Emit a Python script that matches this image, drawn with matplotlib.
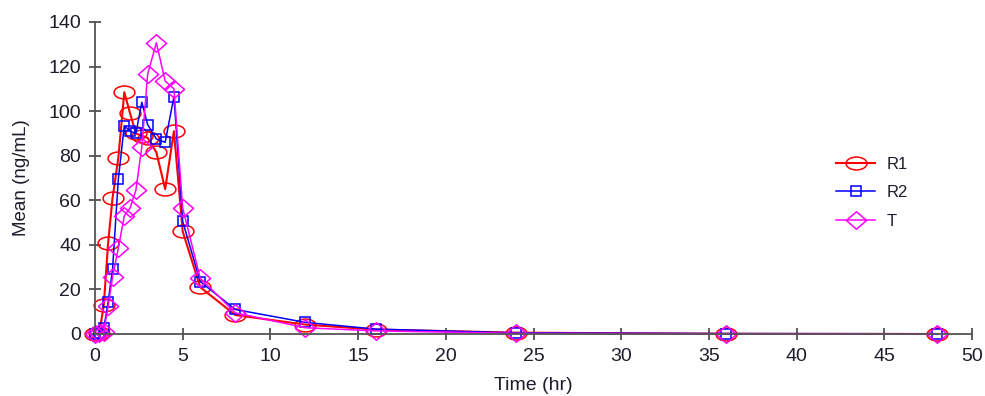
import numpy as np
import matplotlib
matplotlib.use("Agg")
import matplotlib.pyplot as plt
from matplotlib.path import Path
from matplotlib.transforms import Affine2D

plt.rcParams['font.family'] = ['Liberation Sans', 'DejaVu Sans']

# sampling times (hr) and mean concentrations (ng/mL)
time_hr = [0, 0.25, 0.5, 0.75, 1, 1.33, 1.67, 2, 2.33, 2.67, 3, 3.5, 4, 4.5,
           5, 6, 8, 12, 16, 24, 36, 48]
r1_mean = [0, 0.5, 13, 41, 61, 79, 108.5, 99, 90, 89, 88, 81.5, 65, 91,
           46, 21, 8.5, 4.2, 2.0, 0.6, 0.1, 0]
r2_mean = [0, 0.3, 2.5, 14.5, 29, 69.5, 93.5, 91, 90, 104, 94, 87.5, 86, 106.5,
           50.5, 23.5, 11, 5.2, 2.2, 0.5, 0.2, 0.1]
t_mean = [0, 0.5, 1, 12.5, 25.5, 38.5, 53, 56.5, 64.5, 84, 116.5, 130.7, 113.5, 110,
          56.5, 25, 9.5, 2.8, 1.4, 0.3, 0.1, 0]

labels = ['R1', 'R2', 'T']
colors = ['#ff0000', '#0000ff', '#ff00ff']

text_col = '#1c1c2a'
axis_col = '#555555'

# flattened circle and diamond outlines
ellipse = Path.unit_circle().transformed(Affine2D().scale(1.0, 0.62))
diamond = Path([(0, 1), (1.15, 0), (0, -1), (-1.15, 0), (0, 1)],
               [Path.MOVETO, Path.LINETO, Path.LINETO, Path.LINETO, Path.CLOSEPOLY])

fig = plt.figure(figsize=(9.85, 3.96), dpi=100)
ax = fig.add_axes([95 / 985, 1 - 334 / 396, 877 / 985, 312 / 396])

styles = [dict(marker=ellipse, markersize=15, lw=1.5),
          dict(marker='s', markersize=7.8, lw=1.1),
          dict(marker=diamond, markersize=14.5, lw=1.1)]

for y, lab, c, st in zip([r1_mean, r2_mean, t_mean], labels, colors, styles):
    ax.plot(time_hr, y, color=c, label=lab, marker=st['marker'],
            markersize=st['markersize'], markerfacecolor='none',
            markeredgecolor=c, markeredgewidth=1.1, lw=st['lw'], clip_on=False)

ax.set_xlim(0, 50)
ax.set_ylim(0, 140)
ax.set_xticks(np.arange(0, 51, 5))
ax.set_yticks(np.arange(0, 141, 20))

for side in ['top', 'right']:
    ax.spines[side].set_visible(False)
for side in ['left', 'bottom']:
    ax.spines[side].set_color(axis_col)
    ax.spines[side].set_linewidth(1.3)

ax.tick_params(direction='inout', length=8, width=1.1, color='#333333',
               labelsize=14, labelcolor=text_col)
ax.tick_params(axis='x', pad=6)
ax.tick_params(axis='y', pad=6)

ax.set_xlabel('Time (hr)', fontsize=14, color=text_col, labelpad=9)
ax.set_ylabel('Mean (ng/mL)', fontsize=13.5, color=text_col, labelpad=13)

leg = ax.legend(loc='upper left', bbox_to_anchor=(836 / 985, 1 - 157 / 396),
                bbox_transform=fig.transFigure, frameon=False, fontsize=12,
                numpoints=1, handlelength=2.35, handletextpad=0.7,
                labelspacing=0.8, borderpad=0, borderaxespad=0)
for t in leg.get_texts():
    t.set_color(text_col)

fig.savefig('out.png', dpi=100, facecolor='white')
